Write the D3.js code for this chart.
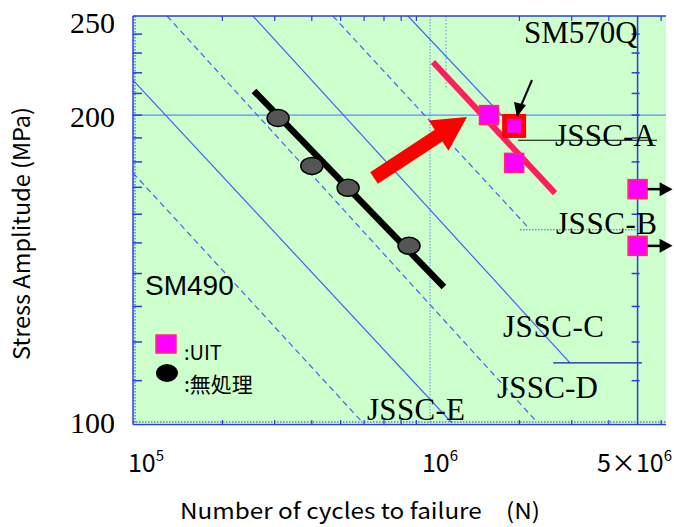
<!DOCTYPE html>
<html>
<head>
    <meta charset="utf-8">
    <style type="text/css">
        body { margin: 0; background: #fff; }
        #mySvg { width: 674px; height: 527px; display: block; }
        .serif { font-family: "Liberation Serif", "DejaVu Serif", serif; fill: #000; }
        .sans { font-family: "Liberation Sans", Arial, sans-serif; fill: #000; }
        .jp { font-family: "Noto Sans CJK JP", sans-serif; fill: #000; }
    </style>
    <script src="https://d3js.org/d3.v7.min.js"></script>
</head>
<body>
    <svg id="mySvg" />
</body>
<script type="text/javascript">
// untreated specimens (black circles)
const untreatedN = [3.08e5, 4.0e5, 5.3e5, 8.5e5];
const untreatedS = [198.7, 178.4, 169.8, 149.0];
const untreatedFitN = [2.555e5, 1.114e6];
const untreatedFitS = [211.2, 135.8];

// UIT specimens (magenta squares)
const uitN = [1.58e6, 1.92e6, 1.92e6, 5e6, 5e6];
const uitS = [200, 195.2, 179.6, 169.3, 149.0];
const uitRunout = [false, false, false, true, true];
const uitFitN = [1.0235e6, 2.636e6];
const uitFitS = [225.4, 167.8];

// JSSC design curves, lower-left to upper-right
const jsscNames = ['JSSC-F', 'JSSC-E', 'JSSC-D', 'JSSC-C', 'JSSC-B', 'JSSC-A'];
const jsscStartN = [1e5, 1e5, 1.302e5, 2.535e5, 4.71e5, 8.43e5];
const jsscStartS = [175.6, 216.4, 250, 250, 250, 250];
const jsscEndN = [5.95e5, 1.186e6, 2.257e6, 2.96e6, 2.12e6, 2.056e6];
const jsscEndS = [100, 100, 100.7, 114.5, 155.8, 190];
const jsscDashed = [true, false, true, false, true, false];

// fatigue-limit cut-offs (C, B, A)
const cutoffS = [114.5, 154.5, 189];
const cutoffN0 = [2.6e6, 2.01e6, 1.98e6];
const cutoffN1 = [5.17e6, 5.21e6, 5.81e6];

const yTickLabels = [250, 200, 100];
const yMinorTicks = d3.range(110, 250, 10);
const xMinorTicks = [2e5, 3e5, 4e5, 5e5, 6e5, 7e5, 8e5, 9e5, 2e6, 3e6, 4e6, 6e6];

const L = 133, R = 666, T = 16, B = 423;
const x = d3.scaleLog().domain([1e5, Math.pow(10, 5 + 533 / 297)]).range([L, R]);
const y = d3.scaleLog().domain([100, 250]).range([B, T]);

const svg = d3.select('#mySvg');
svg.append('defs').append('clipPath').attr('id', 'plotClip')
    .append('rect').attr('x', L).attr('y', T).attr('width', R - L).attr('height', B - T);

svg.append('rect').attr('x', L).attr('y', T).attr('width', R - L).attr('height', B - T)
    .attr('fill', '#ccffcc');

const plot = svg.append('g').attr('clip-path', 'url(#plotClip)');

// reference grid lines
plot.append('line').attr('x1', L).attr('x2', R).attr('y1', y(200)).attr('y2', y(200))
    .attr('stroke', '#5b8cff').attr('stroke-width', 1.3);
plot.append('line').attr('x1', x(1e6)).attr('x2', x(1e6)).attr('y1', T).attr('y2', B)
    .attr('stroke', '#5b8cff').attr('stroke-width', 1).attr('stroke-dasharray', '1.5,1.5');
plot.append('line').attr('x1', x(1.132e6)).attr('x2', x(1.132e6)).attr('y1', T).attr('y2', y(211.6))
    .attr('stroke', '#5b8cff').attr('stroke-width', 1).attr('stroke-dasharray', '1.5,2');

// JSSC lines
jsscNames.forEach((name, i) => {
    plot.append('line')
        .attr('x1', x(jsscStartN[i])).attr('y1', y(jsscStartS[i]))
        .attr('x2', x(jsscEndN[i])).attr('y2', y(jsscEndS[i]))
        .attr('stroke', '#3f63f5').attr('stroke-width', 1.2)
        .attr('stroke-dasharray', jsscDashed[i] ? '6,4' : null);
});
const cutStyle = [
    { c: '#1a1aaa', d: null, w: 1.3 },
    { c: '#3f63f5', d: '1.5,1.5', w: 1.2 },
    { c: '#000', d: null, w: 1.2 }
];
cutoffS.forEach((s, i) => {
    plot.append('line')
        .attr('x1', x(cutoffN0[i])).attr('x2', x(cutoffN1[i]))
        .attr('y1', y(s)).attr('y2', y(s))
        .attr('stroke', cutStyle[i].c).attr('stroke-width', cutStyle[i].w)
        .attr('stroke-dasharray', cutStyle[i].d);
});

// axes frame
const axisBlue = '#2a3fe0';
svg.append('line').attr('x1', L).attr('x2', R).attr('y1', T).attr('y2', T).attr('stroke', axisBlue).attr('stroke-width', 1.5);
svg.append('line').attr('x1', L).attr('x2', R).attr('y1', B + 1.5).attr('y2', B + 1.5).attr('stroke', axisBlue).attr('stroke-width', 1.5);
svg.append('line').attr('x1', L).attr('x2', R).attr('y1', B - 1).attr('y2', B - 1).attr('stroke', axisBlue).attr('stroke-width', 1).attr('stroke-dasharray', '1.5,1.5');
svg.append('line').attr('x1', L).attr('x2', L).attr('y1', T).attr('y2', B + 1.5).attr('stroke', axisBlue).attr('stroke-width', 1.5);
svg.append('line').attr('x1', L + 2).attr('x2', L + 2).attr('y1', T).attr('y2', B).attr('stroke', axisBlue).attr('stroke-width', 1).attr('stroke-dasharray', '1.5,1.5');
svg.append('line').attr('x1', x(5e6)).attr('x2', x(5e6)).attr('y1', T).attr('y2', B + 1.5).attr('stroke', axisBlue).attr('stroke-width', 1.5);

// ticks
svg.append('g').selectAll('line').data(yMinorTicks).enter().append('line')
    .attr('x1', L).attr('x2', L + 9).attr('y1', d => y(d)).attr('y2', d => y(d))
    .attr('stroke', axisBlue).attr('stroke-width', 1.5);
svg.append('g').selectAll('line').data(yMinorTicks).enter().append('line')
    .attr('x1', x(5e6) - 6).attr('x2', x(5e6) + 2).attr('y1', d => y(d)).attr('y2', d => y(d))
    .attr('stroke', axisBlue).attr('stroke-width', 1.5);
svg.append('g').selectAll('line').data(xMinorTicks).enter().append('line')
    .attr('x1', d => x(d)).attr('x2', d => x(d)).attr('y1', T).attr('y2', T + 5)
    .attr('stroke', axisBlue).attr('stroke-width', 1.2);
svg.append('g').selectAll('line').data(xMinorTicks).enter().append('line')
    .attr('x1', d => x(d)).attr('x2', d => x(d)).attr('y1', B + 2).attr('y2', B - 3)
    .attr('stroke', axisBlue).attr('stroke-width', 1.2);

// fitted lines
plot.append('line')
    .attr('x1', x(untreatedFitN[0])).attr('y1', y(untreatedFitS[0]))
    .attr('x2', x(untreatedFitN[1])).attr('y2', y(untreatedFitS[1]))
    .attr('stroke', '#000').attr('stroke-width', 6.5);
plot.append('line')
    .attr('x1', x(uitFitN[0])).attr('y1', y(uitFitS[0]))
    .attr('x2', x(uitFitN[1])).attr('y2', y(uitFitS[1]))
    .attr('stroke', '#ff1f60').attr('stroke-width', 6);

// untreated points
svg.append('g').selectAll('ellipse').data(untreatedN).enter().append('ellipse')
    .attr('cx', d => x(d)).attr('cy', (d, i) => y(untreatedS[i]))
    .attr('rx', 11).attr('ry', 8.5)
    .attr('fill', '#555').attr('stroke', '#000').attr('stroke-width', 1.5);

// big red arrow
const ax0 = 374, ay0 = 178, ax1 = 467, ay1 = 117;
const ang = Math.atan2(ay1 - ay0, ax1 - ax0);
const red = svg.append('g').attr('transform', `translate(${ax0},${ay0}) rotate(${ang * 180 / Math.PI})`);
const len = Math.hypot(ax1 - ax0, ay1 - ay0);
red.append('path')
    .attr('d', `M0,-7 L${len - 34},-7 L${len - 34},-18 L${len},0 L${len - 34},18 L${len - 34},7 L0,7 Z`)
    .attr('fill', '#ff0000');

// UIT points
const sq = 19;
uitN.forEach((n, i) => {
    const cx = x(n), cy = y(uitS[i]);
    if (i === 1) {
        svg.append('rect').attr('x', cx - 12).attr('y', cy - 12).attr('width', 24).attr('height', 24)
            .attr('fill', '#ff0000');
        svg.append('rect').attr('x', cx - 7).attr('y', cy - 7).attr('width', 14).attr('height', 14)
            .attr('fill', '#ff00ff');
    } else {
        svg.append('rect').attr('x', cx - sq / 2).attr('y', cy - sq / 2).attr('width', sq).attr('height', sq)
            .attr('fill', '#ff00ff').attr('stroke', '#ff2a6a').attr('stroke-width', 1.5);
    }
    if (uitRunout[i]) {
        svg.append('line').attr('x1', cx + 10).attr('x2', cx + 24).attr('y1', cy).attr('y2', cy)
            .attr('stroke', '#000').attr('stroke-width', 2.5);
        svg.append('path').attr('d', `M${cx + 22},${cy - 7} L${cx + 35},${cy} L${cx + 22},${cy + 7} Z`)
            .attr('fill', '#000');
    }
});

// small black arrow to highlighted specimen
svg.append('line').attr('x1', 532).attr('y1', 80).attr('x2', 520).attr('y2', 108)
    .attr('stroke', '#000').attr('stroke-width', 2);
svg.append('path').attr('d', 'M514,102 L517,117 L526,105 Z').attr('fill', '#000');

// labels
svg.append('text').attr('class', 'serif').attr('x', 524).attr('y', 43).attr('font-size', 31).text('SM570Q');
const jsscLabelX = [null, 367, 497, 503, 556, 555];
const jsscLabelY = [null, 420, 398, 337, 234, 146];
jsscNames.forEach((name, i) => {
    if (jsscLabelX[i] === null) return;
    svg.append('text').attr('class', 'serif').attr('x', jsscLabelX[i]).attr('y', jsscLabelY[i])
        .attr('font-size', 31).attr('textLength', i === 1 ? 98 : 101).text(name);
});
svg.append('text').attr('class', 'sans').attr('x', 145).attr('y', 295).attr('font-size', 28).text('SM490');

// legend
svg.append('rect').attr('x', 156).attr('y', 335).attr('width', 20).attr('height', 18)
    .attr('fill', '#ff00ff').attr('stroke', '#ff2a6a').attr('stroke-width', 1.5);
svg.append('ellipse').attr('cx', 167).attr('cy', 373).attr('rx', 11).attr('ry', 9).attr('fill', '#000');
svg.append('text').attr('class', 'jp').attr('x', 184).attr('y', 360).attr('font-size', 20).text(':UIT');
svg.append('text').attr('class', 'jp').attr('x', 184).attr('y', 392).attr('font-size', 21).text(':無処理');

// tick labels
const yLabelBase = [33, 127, 433];
yTickLabels.forEach((v, i) => {
    svg.append('text').attr('class', 'serif').attr('x', 115).attr('y', yLabelBase[i])
        .attr('text-anchor', 'end').attr('font-size', 30).text(v);
});
function powLabel(px, pre, exp) {
    const t = svg.append('text').attr('class', 'jp').attr('x', px).attr('y', 472)
        .attr('font-size', 25).attr('text-anchor', 'middle');
    t.append('tspan').text(pre);
    t.append('tspan').attr('dy', -11).attr('font-size', 15).text(exp);
}
powLabel(x(1e5) + 13, '10', '5');
powLabel(x(1e6) + 10, '10', '6');
powLabel(x(5e6) - 3, '5×10', '6');

// axis titles
svg.append('text').attr('class', 'jp').attr('x', 180).attr('y', 519)
    .attr('font-size', 22).attr('textLength', 360).attr('lengthAdjust', 'spacingAndGlyphs')
    .text('Number of cycles to failure　(N)');
svg.append('text').attr('class', 'jp').attr('transform', 'translate(30,360) rotate(-90)')
    .attr('font-size', 23).attr('textLength', 253).attr('lengthAdjust', 'spacingAndGlyphs')
    .text('Stress Amplitude (MPa)');
</script>
</html>
